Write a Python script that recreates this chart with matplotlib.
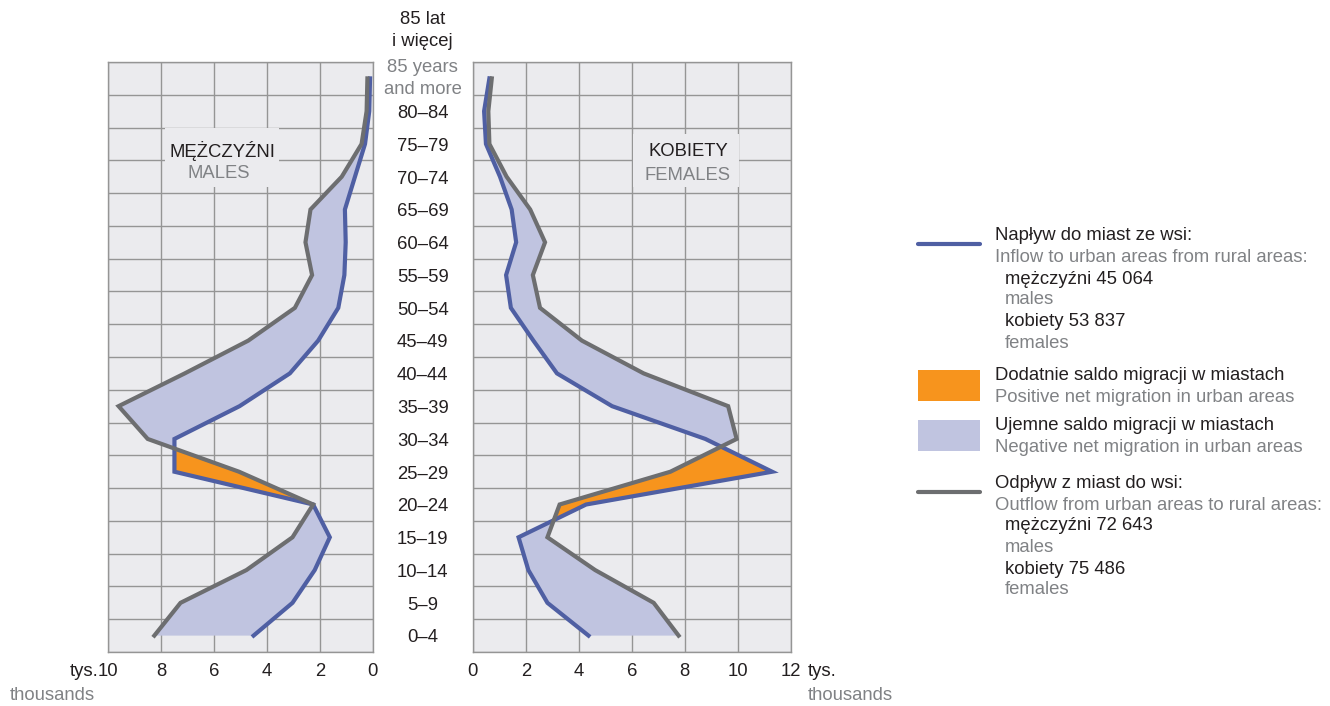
import numpy as np
import matplotlib
matplotlib.use('Agg')
import matplotlib.pyplot as plt
from matplotlib.patches import Rectangle
from matplotlib.transforms import blended_transform_factory

plt.rcParams['font.family'] = ['Liberation Sans', 'DejaVu Sans']

# grupy wieku od najmłodszej do najstarszej
ages = ['0–4', '5–9', '10–14', '15–19', '20–24', '25–29', '30–34', '35–39',
        '40–44', '45–49', '50–54', '55–59', '60–64', '65–69', '70–74',
        '75–79', '80–84', '85+']

# tys. osób
m_inflow = [4.50, 3.03, 2.19, 1.62, 2.25, 7.49, 7.49, 5.03, 3.13,
            2.06, 1.30, 1.07, 1.02, 1.05, 0.67, 0.29, 0.13, 0.10]
m_outflow = [8.25, 7.26, 4.77, 3.03, 2.25, 5.05, 8.50, 9.60, 7.10,
             4.70, 2.94, 2.29, 2.54, 2.35, 1.17, 0.42, 0.23, 0.20]
f_inflow = [4.37, 2.82, 2.10, 1.73, 4.28, 11.30, 8.78, 5.26, 3.18,
            2.29, 1.44, 1.26, 1.64, 1.47, 1.03, 0.50, 0.43, 0.63]
f_outflow = [7.77, 6.83, 4.62, 2.82, 3.28, 7.46, 9.96, 9.64, 6.45,
             4.12, 2.54, 2.27, 2.73, 2.17, 1.28, 0.63, 0.59, 0.72]

left_ticks = [10, 8, 6, 4, 2, 0]
right_ticks = [0, 2, 4, 6, 8, 10, 12]

BG = '#ebebee'
GRID = '#959595'
BLUE = '#4f5fa3'
GREY = '#6d6e70'
ORANGE = '#f7941d'
LAV = '#c0c4e0'
BLACK = '#231f20'
GRAYTXT = '#808285'
FS = 13.3

W, H = 1330, 706
fig = plt.figure(figsize=(W / 100, H / 100), dpi=100)


def fx(x):
    return x / W


def fy(y):
    return 1 - y / H


ax_m = fig.add_axes([fx(108), fy(652), (372.7 - 108) / W, 590 / H])
ax_f = fig.add_axes([fx(472.7), fy(652), (790.7 - 472.7) / W, 590 / H])

y = np.arange(len(ages))

for ax, inflow, outflow, ticks in [(ax_m, m_inflow, m_outflow, left_ticks),
                                    (ax_f, f_inflow, f_outflow, right_ticks)]:
    inflow = np.array(inflow)
    outflow = np.array(outflow)
    ax.set_facecolor(BG)
    ax.set_ylim(-0.5, len(ages) - 0.5)
    ax.set_yticks(np.arange(-0.5, len(ages)))
    ax.set_xticks(ticks)
    ax.grid(True, color=GRID, lw=1.0, zorder=0)
    ax.set_axisbelow(True)
    ax.tick_params(length=0, labelleft=False, labelbottom=False)
    for s in ax.spines.values():
        s.set_color(GRID)
        s.set_linewidth(1.0)
    ax.fill_betweenx(y, inflow, outflow, where=outflow >= inflow,
                     interpolate=True, color=LAV, lw=0, zorder=2)
    ax.fill_betweenx(y, inflow, outflow, where=inflow > outflow,
                     interpolate=True, color=ORANGE, lw=0, zorder=2)
    ax.plot(inflow, y, color=BLUE, lw=3, solid_joinstyle='miter', zorder=4)
    ax.plot(outflow, y, color=GREY, lw=3, solid_joinstyle='miter', zorder=5)

ax_m.set_xlim(10, 0)
ax_f.set_xlim(0, 12)

# ramki z nazwami płci
ax_m.add_patch(Rectangle((0.215, 0.788), 0.431, 0.1, transform=ax_m.transAxes,
                         facecolor=BG, edgecolor='none', zorder=1))
ax_f.add_patch(Rectangle((0.504, 0.788), 0.334, 0.09, transform=ax_f.transAxes,
                         facecolor=BG, edgecolor='none', zorder=1))
fig.text(fx(222), fy(151), 'MĘŻCZYŹNI', color=BLACK, fontsize=FS, ha='center', va='center')
fig.text(fx(219), fy(174), 'MALES', color=GRAYTXT, fontsize=FS, ha='center', va='center')
fig.text(fx(688), fy(152), 'KOBIETY', color=BLACK, fontsize=FS, ha='center', va='center')
fig.text(fx(688), fy(175), 'FEMALES', color=GRAYTXT, fontsize=FS, ha='center', va='center')

# etykiety wieku
tr = blended_transform_factory(fig.transFigure, ax_m.transData)
for i, lab in enumerate(ages[:-1]):
    ax_m.text(fx(422.7), i - 0.07, lab, transform=tr, ha='center', va='center',
              fontsize=FS, color=BLACK, clip_on=False)
for yy, t, c in [(20, '85 lat', BLACK), (42, 'i więcej', BLACK),
                 (67, '85 years', GRAYTXT), (89, 'and more', GRAYTXT)]:
    fig.text(fx(422.7), fy(yy), t, ha='center', va='center', fontsize=FS, color=c)

# osie x
for v in left_ticks:
    xp = ax_m.transData.transform((v, 0))[0]
    fig.text(xp / W, fy(671), str(v), ha='center', va='center', fontsize=FS, color=BLACK)
for v in right_ticks:
    xp = ax_f.transData.transform((v, 0))[0]
    fig.text(xp / W, fy(671), str(v), ha='center', va='center', fontsize=FS, color=BLACK)
fig.text(fx(99), fy(671), 'tys.', ha='right', va='center', fontsize=FS, color=BLACK)
fig.text(fx(808), fy(671), 'tys.', ha='left', va='center', fontsize=FS, color=BLACK)
fig.text(fx(10), fy(695), 'thousands', ha='left', va='center', fontsize=FS, color=GRAYTXT)
fig.text(fx(808), fy(695), 'thousands', ha='left', va='center', fontsize=FS, color=GRAYTXT)

# legenda
fig.lines.append(plt.Line2D([fx(918), fx(980)], [fy(244), fy(244)], transform=fig.transFigure,
                            color=BLUE, lw=3, solid_capstyle='round'))
fig.lines.append(plt.Line2D([fx(918), fx(980)], [fy(492), fy(492)], transform=fig.transFigure,
                            color=GREY, lw=3, solid_capstyle='round'))
fig.patches.append(Rectangle((fx(918), fy(401)), 62 / W, 31 / H, transform=fig.transFigure,
                             facecolor=ORANGE, edgecolor='none'))
fig.patches.append(Rectangle((fx(918), fy(451)), 62 / W, 31 / H, transform=fig.transFigure,
                             facecolor=LAV, edgecolor='none'))

legend_rows = [
    (995, 236, 'Napływ do miast ze wsi:', BLACK),
    (995, 258, 'Inflow to urban areas from rural areas:', GRAYTXT),
    (1005, 279, 'mężczyźni 45 064', BLACK),
    (1005, 300, 'males', GRAYTXT),
    (1005, 322, 'kobiety 53 837', BLACK),
    (1005, 343, 'females', GRAYTXT),
    (995, 376, 'Dodatnie saldo migracji w miastach', BLACK),
    (995, 397, 'Positive net migration in urban areas', GRAYTXT),
    (995, 426, 'Ujemne saldo migracji w miastach', BLACK),
    (995, 447, 'Negative net migration in urban areas', GRAYTXT),
    (995, 484, 'Odpływ z miast do wsi:', BLACK),
    (995, 505, 'Outflow from urban areas to rural areas:', GRAYTXT),
    (1005, 526, 'mężczyźni 72 643', BLACK),
    (1005, 547, 'males', GRAYTXT),
    (1005, 569, 'kobiety 75 486', BLACK),
    (1005, 590, 'females', GRAYTXT),
]
for xx, yy, t, c in legend_rows:
    fig.text(fx(xx), fy(yy), t, ha='left', va='center', fontsize=FS, color=c)

fig.savefig('out.png', dpi=100, facecolor='white')
